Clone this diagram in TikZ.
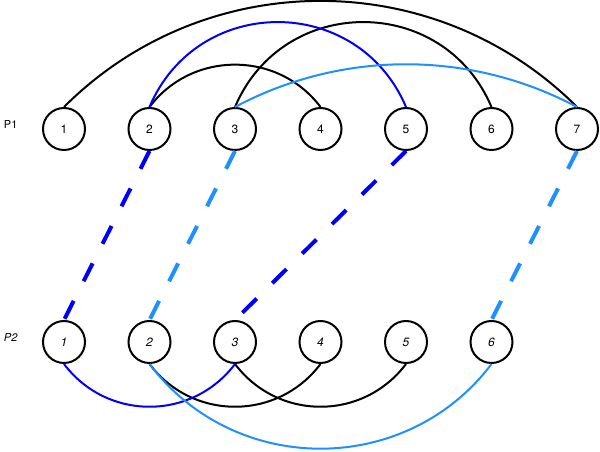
\documentclass[tikz,border=0pt]{standalone}
\usepackage{fontspec}
\setmainfont{TeX Gyre Heros}
\definecolor{darkblue}{RGB}{0,0,250}
\definecolor{lightblue}{RGB}{30,144,255}
\begin{document}
\begin{tikzpicture}[x=1pt, y=1pt, line width=2pt,
  every node/.style={font=\fontsize{12}{14}\selectfont},
  elem/.style={circle, draw, minimum size=42pt, inner sep=0pt},
  rowlab/.style={anchor=west, font=\fontsize{11}{13}\selectfont, inner sep=0pt},
  link/.style={line width=4pt, dash pattern=on 20pt off 22pt}]
  \useasboundingbox (0,0) rectangle (600,452);
  \node[rowlab] (lab1) at (3,327.5) {P1};
  \node[rowlab] (lab2) at (3,114.5) {\itshape P2};
  \foreach \i in {1,...,7} \node[elem] (a\i) at ({64+85.5*(\i-1)},323) {\i};
  \foreach \i in {1,...,6} \node[elem] (b\i) at ({64+85.5*(\i-1)},110) {\itshape\i};
  % arcs over the top row
  \draw (a1.north) to[out=45, in=135, looseness=1.0] (a7.north);
  \draw (a2.north) to[out=53, in=127, looseness=1.06] (a4.north);
  \draw (a3.north) to[out=67, in=113, looseness=1.23] (a6.north);
  \draw[darkblue] (a2.north) to[out=67, in=113, looseness=1.23] (a5.north);
  \draw[lightblue] (a3.north) to[out=28, in=152, looseness=0.91] (a7.north);
  % arcs under the bottom row
  \draw (b2.south) to[out=-53, in=-127, looseness=1.07] (b4.south);
  \draw (b3.south) to[out=-53, in=-127, looseness=1.07] (b5.south);
  \draw[darkblue] (b1.south) to[out=-53, in=-127, looseness=1.07] (b3.south);
  \draw[lightblue] (b2.south) to[out=-53, in=-127, looseness=1.06] (b6.south);
  % matches between the rows
  \draw[link, darkblue] (a2.south) -- (b1.north);
  \draw[link, lightblue] (a3.south) -- (b2.north);
  \draw[link, darkblue] (a5.south) -- (b3.north);
  \draw[link, lightblue] (a7.south) -- (b6.north);
\end{tikzpicture}
\end{document}
